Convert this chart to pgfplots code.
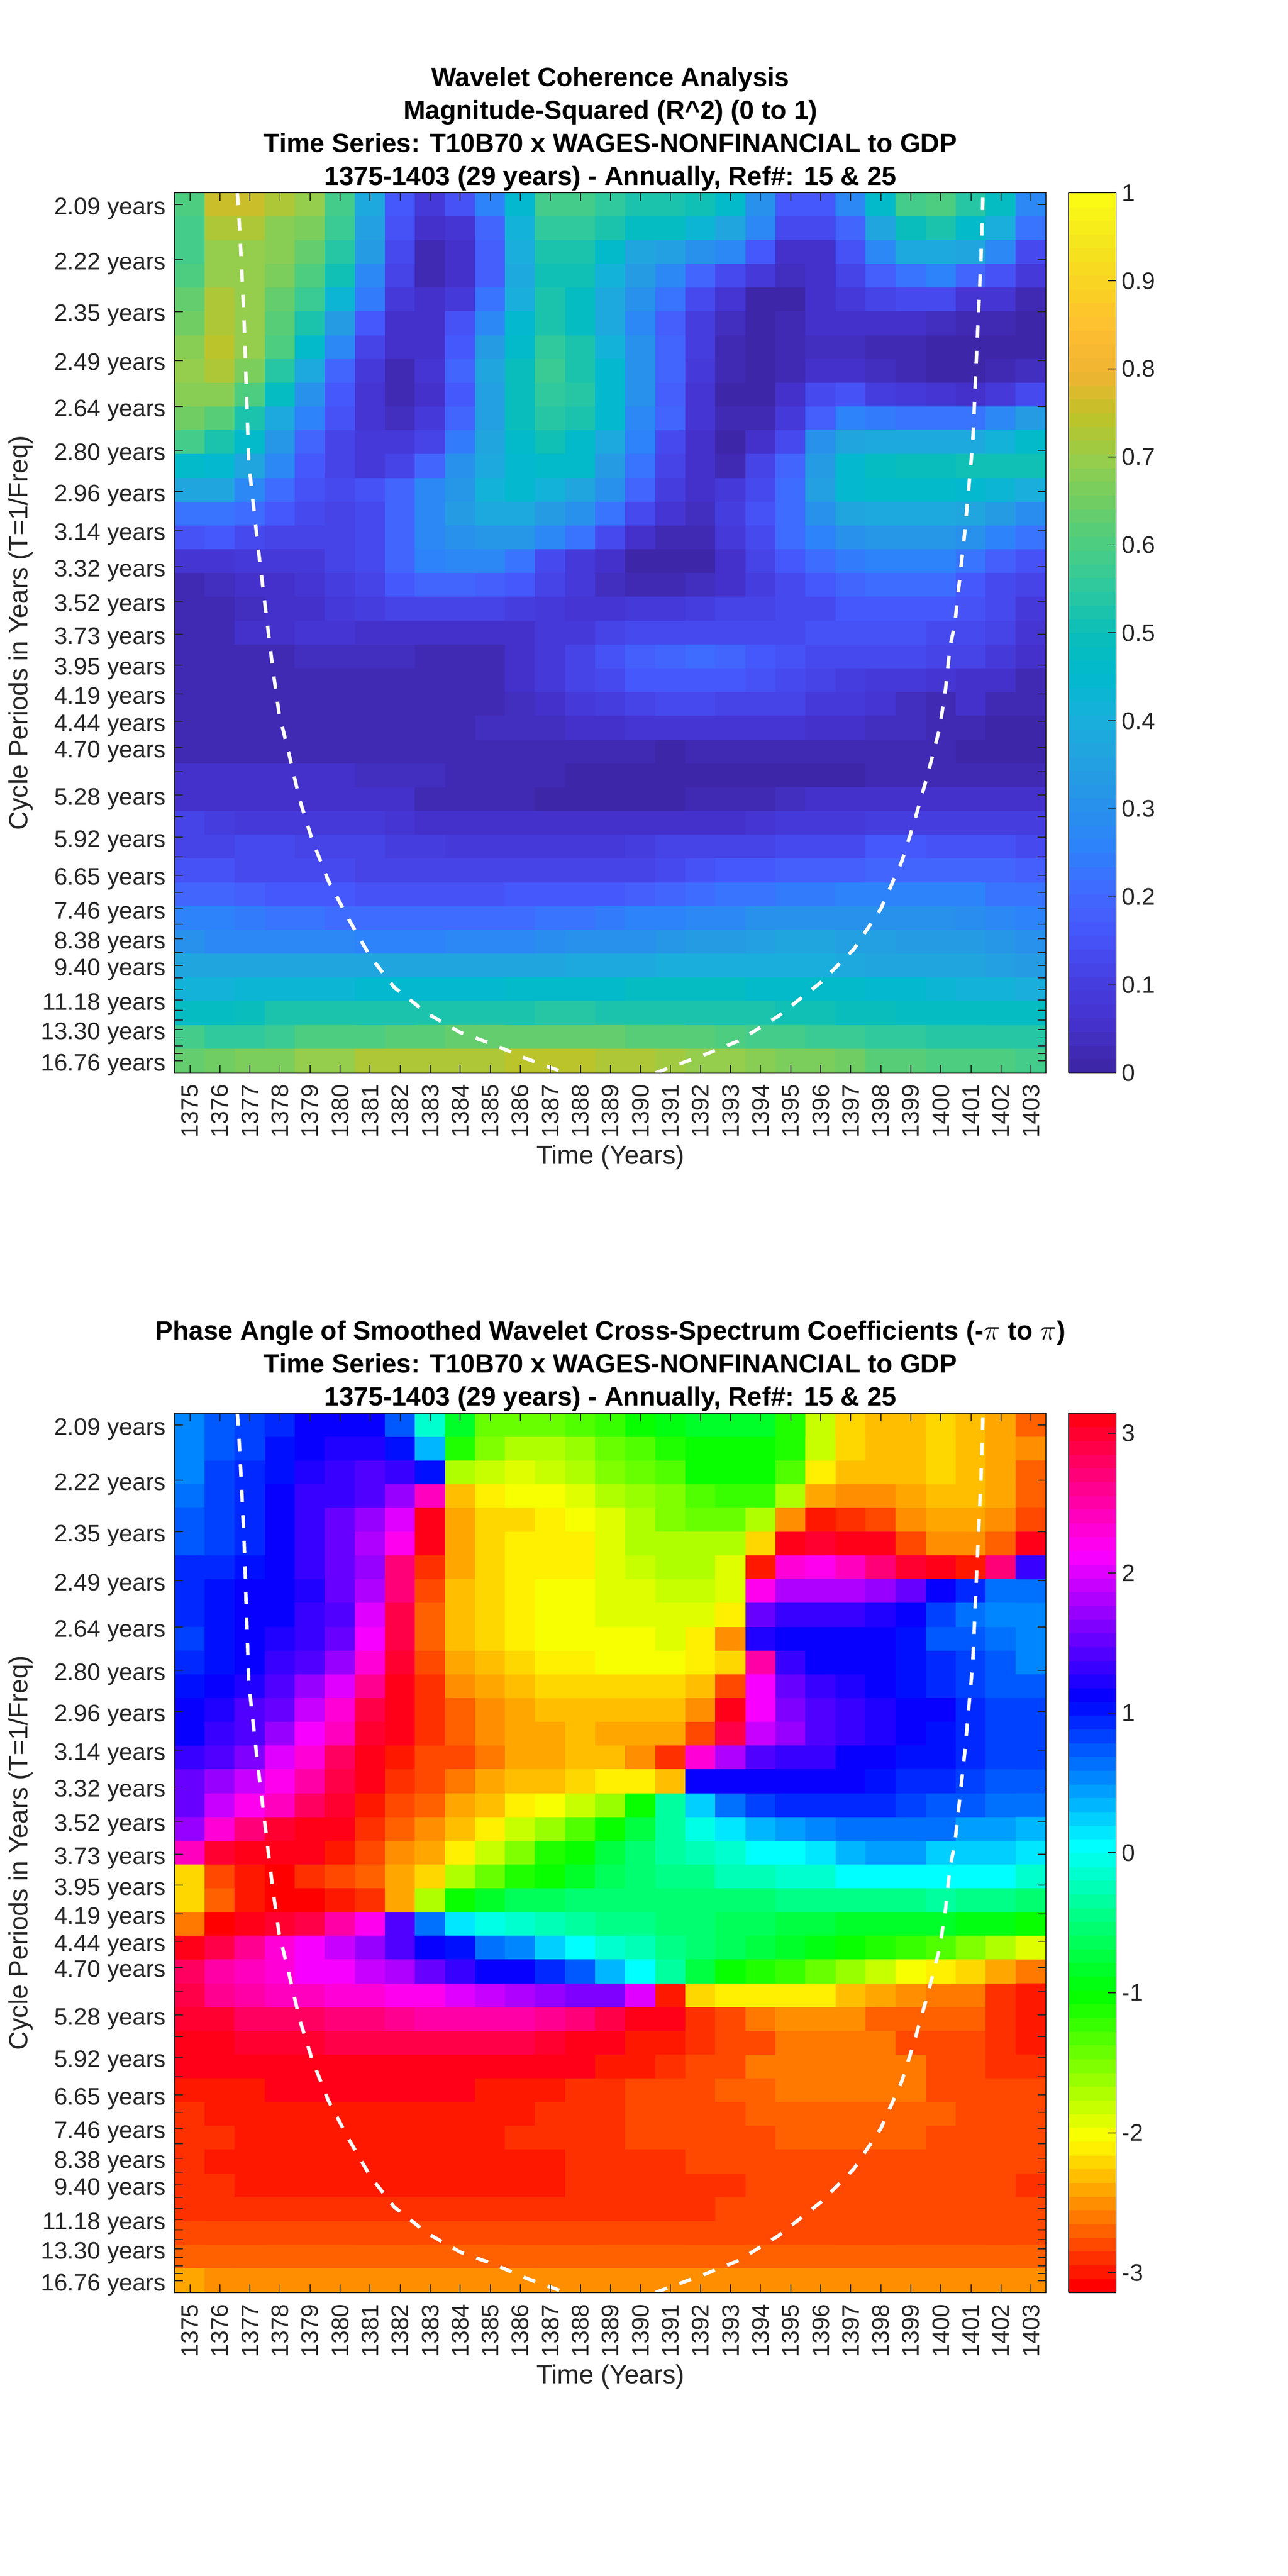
\documentclass[border=0pt]{standalone}
\usepackage{fontspec}
\setmainfont{Liberation Sans}
\usepackage{pgfplots}
\pgfplotsset{compat=1.18}

\definecolor{axgray}{RGB}{38,38,38}

\pgfplotsset{
  colormap={cohbase}{
    rgb255=(62,38,168) rgb255=(68,50,205) rgb255=(70,62,225) rgb255=(70,85,250)
    rgb255=(65,105,255) rgb255=(45,130,250) rgb255=(40,145,235) rgb255=(35,160,225)
    rgb255=(25,175,220) rgb255=(0,185,205) rgb255=(10,190,185) rgb255=(45,200,160)
    rgb255=(75,205,130) rgb255=(110,205,100) rgb255=(150,205,75) rgb255=(190,195,40)
    rgb255=(240,180,50) rgb255=(255,190,50) rgb255=(250,210,35) rgb255=(245,230,30)
    rgb255=(250,250,20)},
  colormap={coh}{samples of colormap=(64 of cohbase)},
  colormap={hsvbase}{
    rgb255(0pt)=(255,0,0) rgb255(60pt)=(255,255,0) rgb255(120pt)=(0,255,0) rgb255(180pt)=(0,255,255)
    rgb255(240pt)=(0,0,255) rgb255(300pt)=(255,0,255) rgb255(354.4pt)=(255,0,24)},
  colormap={hsv64}{samples of colormap=(64 of hsvbase)},
  wavelet/.style={
    scale only axis, width=528.6pt,
    xmin=1374.5, xmax=1403.5, ymin=0.5, ymax=37.5, y dir=reverse,
    axis on top, tick align=inside, major tick length=5pt,
    axis line style={draw=axgray, line width=0.6pt},
    tick style={draw=axgray, line width=0.6pt},
    xtick={1375,1376,...,1403},
    ytick={1,3.309,5.489,7.546,9.488,11.321,13.050,14.683,16.225,17.679,19.052,20.348,21.571,22.726,23.816,24.844,25.816,26.732,27.597,28.413,29.184,29.911,30.598,31.246,31.857,32.435,32.980,33.494,33.979,34.437,34.870,35.278,35.663,36.027,36.370,36.694,37},
    yticklabels={2.09 years,2.22 years,2.35 years,2.49 years,2.64 years,2.80 years,2.96 years,3.14 years,3.32 years,3.52 years,3.73 years,3.95 years,4.19 years,4.44 years,4.70 years,{},5.28 years,{},5.92 years,{},6.65 years,{},7.46 years,{},8.38 years,{},9.40 years,{},{},11.18 years,{},{},13.30 years,{},{},{},16.76 years},
    tick label style={font=\fontsize{14.5}{17}\selectfont, text=axgray},
    xticklabel style={rotate=90, anchor=east, xshift=-3.5pt,
      /pgf/number format/1000 sep={}, /pgf/number format/assume math mode=true},
    yticklabel style={xshift=-2pt, yshift=-2.5pt},
    xlabel={Time (Years)}, ylabel={Cycle Periods in Years (T=1/Freq)},
    label style={font=\fontsize{15.9}{18}\selectfont, text=axgray},
    xlabel style={at={(axis description cs:0.5,-0.096)}, anchor=center},
    ylabel style={at={(axis description cs:-0.177,0.5)}, anchor=center, rotate=0},
    title style={font=\bfseries\fontsize{16}{20}\selectfont, align=center,
      at={(0.5,1)}, anchor=south, yshift=-8pt, inner sep=3pt},
    point meta=explicit,
    colorbar sampled,
  },
  cellmap/.style={matrix plot*, mesh/cols=29, shader=flat corner},
  /pgfplots/table/cell table/.style={row sep=crcr, header=false,
    x expr={1375+mod(\coordindex,29)}, y expr={1+int((\coordindex+0.5)/29)}, meta index=0},
  coi/.style={white, line width=2.1pt, dash pattern=on 7.5pt off 8pt},
  cbar/.style={at={(parent axis.north east)}, anchor=north west, xshift=5pt, width=29pt,
    axis line style={draw=axgray, line width=0.6pt},
    tick style={draw=axgray, line width=0.6pt}, major tick length=5pt, tick align=inside,
    ytick pos=right, samples=65,
    yticklabel style={font=\fontsize{14.5}{17}\selectfont, text=axgray,
      /pgf/number format/assume math mode=true, /pgf/number format/fixed}},
}

\begin{document}
\begin{tikzpicture}
\path[use as bounding box] (0,0) rectangle (781.25pt,1563pt);

\begin{axis}[wavelet, at={(106.1pt,912pt)}, anchor=south west, height=534pt,
  title={Wavelet Coherence Analysis\\Magnitude-Squared (R\textasciicircum 2) (0 to 1)\\Time Series: T10B70 x WAGES-NONFINANCIAL to GDP\\1375-1403 (29 years) - Annually, Ref\#: 15 \& 25},
  colormap name=coh, colormap access=piecewise constant,
  point meta min=0, point meta max=1,
  colorbar style={cbar, ytick={0,0.1,0.2,0.3,0.4,0.5,0.6,0.7,0.8,0.9,1}},
]
\addplot[cellmap] table[cell table] {
.6\\.76\\.76\\.72\\.7\\.58\\.38\\.16\\.09\\.15\\.26\\.45\\.58\\.58\\.55\\.53\\.52\\.51\\.46\\.3\\.16\\.16\\.27\\.46\\.58\\.6\\.54\\.48\\.28\\
.58\\.72\\.72\\.68\\.66\\.57\\.35\\.15\\.06\\.07\\.2\\.42\\.56\\.56\\.53\\.47\\.47\\.43\\.36\\.27\\.13\\.13\\.2\\.37\\.49\\.52\\.46\\.4\\.22\\
.58\\.7\\.7\\.68\\.64\\.54\\.33\\.13\\.03\\.05\\.18\\.4\\.53\\.53\\.46\\.37\\.35\\.31\\.27\\.16\\.06\\.06\\.15\\.28\\.38\\.38\\.36\\.28\\.13\\
.6\\.69\\.69\\.66\\.6\\.5\\.27\\.12\\.03\\.05\\.18\\.38\\.5\\.5\\.42\\.33\\.28\\.2\\.14\\.08\\.04\\.05\\.12\\.18\\.22\\.25\\.2\\.15\\.09\\
.63\\.72\\.7\\.64\\.57\\.43\\.24\\.09\\.05\\.08\\.22\\.4\\.53\\.48\\.38\\.3\\.22\\.14\\.07\\.01\\.01\\.05\\.09\\.12\\.13\\.14\\.07\\.07\\.03\\
.65\\.73\\.7\\.62\\.52\\.33\\.17\\.06\\.06\\.15\\.27\\.44\\.52\\.47\\.38\\.28\\.18\\.1\\.04\\.01\\.02\\.05\\.06\\.06\\.05\\.04\\.03\\.02\\.01\\
.68\\.74\\.7\\.6\\.46\\.27\\.12\\.05\\.05\\.16\\.34\\.46\\.55\\.53\\.42\\.3\\.2\\.1\\.03\\.01\\.02\\.04\\.04\\.03\\.02\\.01\\.01\\.01\\.01\\
.69\\.72\\.66\\.54\\.38\\.2\\.09\\.03\\.07\\.19\\.36\\.49\\.57\\.53\\.44\\.31\\.2\\.08\\.03\\.01\\.03\\.06\\.06\\.04\\.02\\.01\\.01\\.02\\.04\\
.68\\.68\\.6\\.47\\.3\\.16\\.07\\.03\\.06\\.17\\.35\\.49\\.56\\.54\\.44\\.3\\.18\\.07\\.01\\.0\\.05\\.13\\.15\\.1\\.09\\.07\\.06\\.08\\.14\\
.65\\.61\\.53\\.38\\.26\\.15\\.07\\.04\\.09\\.2\\.35\\.49\\.54\\.53\\.44\\.28\\.2\\.07\\.02\\.02\\.08\\.18\\.25\\.24\\.22\\.22\\.22\\.27\\.33\\
.58\\.53\\.46\\.32\\.2\\.12\\.08\\.08\\.12\\.24\\.37\\.46\\.5\\.46\\.38\\.26\\.14\\.05\\.01\\.05\\.14\\.3\\.36\\.38\\.38\\.38\\.38\\.41\\.46\\
.46\\.44\\.36\\.27\\.17\\.11\\.08\\.12\\.19\\.3\\.39\\.45\\.46\\.46\\.34\\.23\\.11\\.05\\.03\\.11\\.19\\.33\\.44\\.47\\.49\\.49\\.51\\.51\\.51\\
.36\\.36\\.27\\.21\\.15\\.13\\.15\\.19\\.27\\.32\\.42\\.44\\.42\\.37\\.3\\.19\\.1\\.05\\.08\\.14\\.21\\.35\\.44\\.46\\.46\\.46\\.45\\.43\\.4\\
.23\\.23\\.21\\.17\\.13\\.12\\.14\\.2\\.28\\.33\\.38\\.38\\.33\\.3\\.23\\.13\\.07\\.04\\.1\\.15\\.21\\.31\\.37\\.38\\.38\\.38\\.37\\.33\\.29\\
.15\\.16\\.14\\.12\\.11\\.11\\.13\\.19\\.27\\.3\\.32\\.32\\.28\\.22\\.13\\.06\\.02\\.03\\.08\\.14\\.21\\.26\\.31\\.32\\.32\\.32\\.3\\.26\\.23\\
.07\\.07\\.09\\.09\\.09\\.11\\.14\\.19\\.25\\.27\\.27\\.22\\.14\\.09\\.05\\.01\\.01\\.01\\.06\\.12\\.16\\.21\\.24\\.26\\.26\\.25\\.22\\.18\\.15\\
.03\\.04\\.05\\.06\\.07\\.1\\.12\\.16\\.19\\.2\\.18\\.17\\.11\\.08\\.04\\.02\\.02\\.04\\.06\\.1\\.13\\.17\\.2\\.21\\.21\\.21\\.17\\.14\\.11\\
.02\\.03\\.04\\.06\\.06\\.08\\.1\\.12\\.12\\.12\\.11\\.1\\.09\\.07\\.07\\.08\\.08\\.1\\.11\\.12\\.13\\.14\\.16\\.16\\.17\\.17\\.15\\.14\\.09\\
.02\\.02\\.05\\.05\\.07\\.07\\.06\\.06\\.06\\.06\\.06\\.06\\.08\\.08\\.12\\.13\\.14\\.14\\.14\\.14\\.14\\.15\\.15\\.15\\.15\\.14\\.13\\.12\\.07\\
.02\\.02\\.03\\.03\\.04\\.04\\.04\\.04\\.02\\.02\\.03\\.06\\.09\\.12\\.15\\.18\\.2\\.21\\.19\\.17\\.15\\.13\\.13\\.13\\.13\\.11\\.12\\.09\\.06\\
.02\\.02\\.03\\.03\\.03\\.03\\.02\\.02\\.02\\.02\\.03\\.05\\.08\\.11\\.14\\.16\\.17\\.17\\.16\\.15\\.13\\.11\\.1\\.09\\.08\\.07\\.06\\.05\\.03\\
.02\\.02\\.02\\.02\\.02\\.02\\.02\\.02\\.02\\.02\\.03\\.04\\.06\\.09\\.1\\.12\\.13\\.13\\.12\\.12\\.11\\.09\\.08\\.07\\.04\\.03\\.05\\.03\\.02\\
.02\\.02\\.03\\.03\\.03\\.03\\.03\\.03\\.03\\.03\\.04\\.04\\.04\\.06\\.06\\.07\\.07\\.07\\.07\\.07\\.07\\.06\\.06\\.04\\.04\\.02\\.02\\.01\\.01\\
.03\\.03\\.03\\.03\\.03\\.03\\.03\\.03\\.03\\.03\\.02\\.02\\.02\\.02\\.02\\.02\\.01\\.02\\.02\\.02\\.02\\.02\\.02\\.03\\.03\\.02\\.01\\.01\\.01\\
.05\\.05\\.05\\.05\\.06\\.06\\.04\\.04\\.04\\.03\\.03\\.02\\.02\\.01\\.01\\.01\\.01\\.01\\.01\\.01\\.01\\.01\\.01\\.03\\.03\\.03\\.03\\.03\\.03\\
.05\\.05\\.05\\.05\\.06\\.05\\.05\\.05\\.03\\.03\\.03\\.03\\.01\\.01\\.01\\.01\\.01\\.02\\.03\\.03\\.04\\.05\\.05\\.05\\.05\\.05\\.05\\.05\\.05\\
.11\\.1\\.09\\.09\\.09\\.08\\.08\\.07\\.06\\.06\\.06\\.05\\.05\\.05\\.05\\.05\\.05\\.06\\.06\\.07\\.08\\.08\\.09\\.1\\.1\\.1\\.1\\.1\\.1\\
.12\\.12\\.13\\.13\\.12\\.11\\.11\\.1\\.1\\.09\\.08\\.08\\.08\\.09\\.09\\.1\\.11\\.11\\.11\\.12\\.13\\.14\\.14\\.16\\.16\\.15\\.15\\.15\\.13\\
.15\\.15\\.13\\.13\\.13\\.13\\.11\\.11\\.11\\.11\\.11\\.11\\.11\\.12\\.12\\.12\\.14\\.15\\.16\\.17\\.18\\.18\\.18\\.2\\.2\\.2\\.2\\.2\\.18\\
.2\\.2\\.18\\.16\\.16\\.16\\.15\\.15\\.15\\.15\\.15\\.16\\.16\\.16\\.17\\.18\\.2\\.21\\.22\\.23\\.24\\.24\\.25\\.25\\.25\\.25\\.25\\.23\\.22\\
.26\\.26\\.24\\.22\\.22\\.21\\.21\\.21\\.21\\.21\\.21\\.21\\.22\\.23\\.24\\.25\\.26\\.27\\.28\\.3\\.31\\.31\\.31\\.3\\.3\\.3\\.29\\.27\\.26\\
.3\\.28\\.27\\.27\\.27\\.27\\.26\\.26\\.26\\.27\\.28\\.28\\.29\\.3\\.31\\.31\\.32\\.33\\.33\\.35\\.36\\.36\\.35\\.35\\.34\\.34\\.34\\.32\\.31\\
.36\\.36\\.36\\.36\\.36\\.36\\.36\\.36\\.36\\.36\\.36\\.36\\.37\\.38\\.39\\.39\\.4\\.4\\.4\\.4\\.4\\.4\\.39\\.37\\.36\\.36\\.36\\.35\\.34\\
.42\\.42\\.43\\.43\\.43\\.43\\.44\\.44\\.45\\.45\\.45\\.46\\.46\\.46\\.46\\.47\\.47\\.47\\.47\\.46\\.46\\.46\\.46\\.45\\.44\\.43\\.42\\.41\\.4\\
.48\\.48\\.49\\.52\\.52\\.52\\.52\\.53\\.53\\.53\\.53\\.53\\.54\\.54\\.53\\.53\\.53\\.53\\.52\\.52\\.51\\.5\\.49\\.49\\.48\\.47\\.47\\.47\\.48\\
.58\\.56\\.56\\.57\\.6\\.6\\.6\\.61\\.62\\.63\\.63\\.63\\.63\\.63\\.63\\.62\\.61\\.61\\.6\\.59\\.58\\.57\\.57\\.56\\.55\\.54\\.54\\.54\\.54\\
.63\\.65\\.66\\.67\\.7\\.7\\.72\\.72\\.72\\.73\\.73\\.74\\.74\\.74\\.73\\.72\\.71\\.7\\.69\\.68\\.67\\.66\\.65\\.62\\.62\\.6\\.6\\.6\\.59\\
};
% cone of influence
\addplot[coi] coordinates {
(1376.58,0.5) (1376.66,2.08) (1376.8,5.72) (1376.96,11.86) (1377.26,15.3) (1377.7,19.9)
(1377.78,20.7) (1377.97,22.4) (1378.3,24.1) (1378.65,26) (1379.06,27.66) (1379.6,29.4)
(1380.3,31.07) (1381,32.6) (1381.8,33.9) (1382.9,35) (1384,35.8) (1385.1,36.3) (1386.2,36.9) (1387.5,37.5)};
\addplot[coi] coordinates {
(1390.5,37.5) (1392.2,36.7) (1393.27,36.15) (1394.6,35.1) (1396,33.7) (1397.1,32.3) (1398,30.6)
(1398.7,28.6) (1399.1,27) (1399.55,25) (1399.96,23) (1400.16,21.3) (1400.3,19.6)
(1400.46,18.65) (1400.8,14.7) (1401.06,11) (1401.2,6.9) (1401.33,3.4) (1401.4,0.5)};
\end{axis}

\begin{axis}[wavelet, at={(106.1pt,172pt)}, anchor=south west, height=533.5pt,
  title={Phase Angle of Smoothed Wavelet Cross-Spectrum Coefficients (-$\pi$ to $\pi$)\\Time Series: T10B70 x WAGES-NONFINANCIAL to GDP\\1375-1403 (29 years) - Annually, Ref\#: 15 \& 25},
  colormap name=hsv64, colormap access=piecewise constant,
  point meta min=-3.1416, point meta max=3.1416,
  colorbar style={cbar, ytick={-3,-2,-1,0,1,2,3}},
]
% the readings are the lower edges of the 64 colour bins, hence the half bin in meta expr
\addplot[cellmap] table[cell table, meta expr={\thisrowno{0}+0.05}] {
.52\\.65\\.75\\.9\\1.05\\1.05\\1.05\\.7\\-.2\\-.9\\-1.45\\-1.5\\-1.5\\-1.4\\-1.3\\-1.1\\-1\\-.9\\-.9\\-.9\\-1.2\\-1.9\\-2.3\\-2.4\\-2.4\\-2.3\\-2.4\\-2.5\\-2.75\\
.5\\.65\\.8\\1\\1.05\\1.15\\1.15\\.95\\.25\\-1.2\\-1.55\\-1.75\\-1.75\\-1.65\\-1.45\\-1.35\\-1.15\\-1.05\\-1.05\\-1.05\\-1.2\\-1.9\\-2.3\\-2.4\\-2.4\\-2.3\\-2.4\\-2.5\\-2.6\\
.5\\.75\\.85\\1\\1.2\\1.3\\1.35\\1.25\\.95\\-1.8\\-1.85\\-1.95\\-1.85\\-1.75\\-1.6\\-1.45\\-1.35\\-1.1\\-1.05\\-1.05\\-1.4\\-2.15\\-2.4\\-2.4\\-2.4\\-2.3\\-2.4\\-2.5\\-2.75\\
.6\\.75\\.9\\1.05\\1.25\\1.3\\1.4\\1.65\\2.4\\-2.35\\-2.15\\-2.1\\-2.1\\-1.95\\-1.75\\-1.65\\-1.55\\-1.35\\-1.25\\-1.3\\-1.8\\-2.5\\-2.6\\-2.6\\-2.5\\-2.4\\-2.4\\-2.5\\-2.75\\
.7\\.8\\.9\\1.05\\1.25\\1.45\\1.65\\2\\3\\-2.5\\-2.3\\-2.25\\-2.15\\-2.05\\-1.95\\-1.75\\-1.6\\-1.5\\-1.5\\-1.75\\-2.6\\-3.05\\-2.95\\-2.8\\-2.6\\-2.5\\-2.5\\-2.6\\-2.8\\
.7\\.8\\.9\\1.05\\1.25\\1.45\\1.75\\2.2\\3.14\\-2.5\\-2.3\\-2.2\\-2.15\\-2.15\\-1.95\\-1.8\\-1.75\\-1.75\\-1.75\\-2.3\\3\\2.9\\3\\3.14\\-2.85\\-2.6\\-2.6\\-2.75\\3.14\\
.85\\.85\\1\\1.05\\1.25\\1.5\\1.7\\2.6\\-2.95\\-2.5\\-2.3\\-2.2\\-2.2\\-2.15\\-2\\-1.9\\-1.8\\-1.8\\-1.95\\-3\\2.3\\2.2\\2.4\\2.6\\2.95\\3.14\\-3\\2.6\\1.25\\
.85\\.95\\1.05\\1.05\\1.15\\1.45\\1.75\\2.6\\-2.8\\-2.4\\-2.3\\-2.2\\-2.1\\-2.1\\-2\\-2\\-1.9\\-1.9\\-2\\2.15\\1.75\\1.75\\1.75\\1.7\\1.45\\1.05\\.9\\.6\\.6\\
.85\\.95\\1.05\\1.05\\1.25\\1.4\\1.95\\2.85\\-2.75\\-2.4\\-2.3\\-2.2\\-2.1\\-2.1\\-1.95\\-1.95\\-1.95\\-1.95\\-2.2\\1.45\\1.3\\1.25\\1.25\\1.2\\1.1\\.8\\.6\\.5\\.5\\
.8\\.95\\1.05\\1.15\\1.25\\1.5\\2.05\\2.85\\-2.75\\-2.4\\-2.3\\-2.2\\-2.1\\-2.1\\-2.05\\-2.05\\-1.95\\-2.15\\-2.6\\1.2\\1.1\\1.1\\1.05\\1.05\\.95\\.7\\.65\\.55\\.5\\
.9\\1\\1.1\\1.25\\1.4\\1.7\\2.3\\2.95\\-2.85\\-2.5\\-2.4\\-2.3\\-2.2\\-2.15\\-2.1\\-2.05\\-2.05\\-2.2\\-2.3\\2.45\\1.3\\1.1\\1.1\\1.05\\1\\.9\\.75\\.65\\.5\\
1\\1.05\\1.2\\1.35\\1.65\\2\\2.55\\3.05\\-2.95\\-2.6\\-2.5\\-2.4\\-2.3\\-2.3\\-2.3\\-2.3\\-2.3\\-2.4\\-2.85\\2.1\\1.5\\1.3\\1.15\\1.05\\.95\\.85\\.8\\.65\\.65\\
1.05\\1.15\\1.35\\1.45\\1.9\\2.3\\2.8\\3.14\\-2.95\\-2.75\\-2.6\\-2.5\\-2.4\\-2.4\\-2.4\\-2.4\\-2.4\\-2.6\\3.05\\2.1\\1.6\\1.35\\1.25\\1.15\\1.05\\1.05\\.9\\.75\\.75\\
1.1\\1.25\\1.35\\1.7\\2.1\\2.4\\2.9\\3.14\\-2.95\\-2.75\\-2.6\\-2.5\\-2.5\\-2.4\\-2.5\\-2.5\\-2.5\\-2.8\\2.8\\1.9\\1.65\\1.35\\1.25\\1.15\\1.05\\1\\.9\\.75\\.75\\
1.25\\1.35\\1.55\\1.95\\2.25\\2.75\\3\\-3\\-2.85\\-2.8\\-2.7\\-2.5\\-2.5\\-2.4\\-2.4\\-2.55\\-2.95\\2.3\\1.75\\1.4\\1.3\\1.25\\1.1\\1.05\\1\\.95\\.9\\.75\\.75\\
1.5\\1.7\\1.9\\2.15\\2.5\\2.8\\3.1\\-2.95\\-2.85\\-2.65\\-2.5\\-2.4\\-2.4\\-2.3\\-2.2\\-2.2\\-2.4\\1.05\\1.05\\1.05\\1.05\\1.05\\1.05\\.95\\.85\\.85\\.75\\.65\\.65\\
1.5\\1.9\\2.15\\2.35\\2.7\\2.95\\-3\\-2.85\\-2.75\\-2.5\\-2.4\\-2.2\\-2.1\\-1.9\\-1.65\\-1.1\\-.35\\.2\\.55\\.75\\.85\\.85\\.85\\.85\\.75\\.65\\.65\\.55\\.55\\
1.7\\2.3\\2.6\\2.9\\3\\3.14\\-2.95\\-2.75\\-2.55\\-2.4\\-2.2\\-1.9\\-1.7\\-1.4\\-1.05\\-.8\\-.4\\-.1\\.1\\.25\\.4\\.5\\.55\\.55\\.55\\.55\\.4\\.4\\.25\\
2.4\\2.95\\3\\3.1\\3.14\\-3\\-2.8\\-2.6\\-2.45\\-2.15\\-1.85\\-1.55\\-1.2\\-1.05\\-.8\\-.6\\-.4\\-.3\\-.15\\-.05\\0\\.1\\.25\\.35\\.35\\.2\\.15\\.15\\.1\\
-2.3\\-2.85\\-3\\-3.14\\-2.95\\-2.85\\-2.75\\-2.5\\-2.25\\-1.75\\-1.45\\-1.2\\-1.05\\-.85\\-.7\\-.55\\-.5\\-.45\\-.3\\-.25\\-.2\\-.15\\-.05\\0\\0\\0\\0\\0\\-.15\\
-2.3\\-2.75\\-3\\-3.14\\-3.14\\-3\\-2.9\\-2.5\\-1.75\\-1.05\\-.85\\-.7\\-.7\\-.6\\-.55\\-.55\\-.55\\-.55\\-.55\\-.55\\-.5\\-.5\\-.5\\-.5\\-.5\\-.35\\-.45\\-.5\\-.6\\
-2.7\\-3.14\\3\\2.95\\2.8\\2.5\\2.15\\1.4\\.55\\.1\\-.1\\-.2\\-.3\\-.4\\-.45\\-.5\\-.55\\-.6\\-.65\\-.7\\-.75\\-.8\\-.85\\-.9\\-.9\\-.9\\-.95\\-1\\-1.05\\
3\\2.85\\2.55\\2.3\\2.05\\1.9\\1.7\\1.4\\1.1\\.95\\.6\\.45\\.2\\0\\-.2\\-.3\\-.45\\-.6\\-.7\\-.8\\-.85\\-.95\\-1.05\\-1.15\\-1.3\\-1.4\\-1.55\\-1.75\\-1.95\\
2.75\\2.5\\2.35\\2.25\\2.1\\2.1\\1.85\\1.75\\1.5\\1.3\\1.1\\1.05\\.85\\.65\\.3\\0\\-.35\\-.8\\-1.05\\-1.15\\-1.3\\-1.45\\-1.7\\-1.85\\-2.05\\-2.15\\-2.3\\-2.5\\-2.7\\
2.8\\2.55\\2.45\\2.4\\2.35\\2.3\\2.25\\2.2\\2.15\\2\\1.9\\1.75\\1.65\\1.6\\1.6\\1.95\\-3.05\\-2.3\\-2.2\\-2.2\\-2.2\\-2.2\\-2.35\\-2.45\\-2.55\\-2.65\\-2.7\\-2.95\\-3\\
2.95\\2.9\\2.75\\2.7\\2.7\\2.65\\2.6\\2.55\\2.5\\2.5\\2.5\\2.5\\2.55\\2.65\\2.8\\3\\3.14\\-2.95\\-2.8\\-2.7\\-2.6\\-2.6\\-2.6\\-2.75\\-2.75\\-2.75\\-2.75\\-2.9\\-3\\
3.1\\3.1\\2.95\\2.95\\2.9\\2.85\\2.85\\2.85\\2.85\\2.85\\2.85\\2.85\\2.95\\3\\3.14\\-3.05\\-3.05\\-2.95\\-2.85\\-2.85\\-2.7\\-2.7\\-2.7\\-2.7\\-2.8\\-2.85\\-2.85\\-2.95\\-3\\
3.14\\3.14\\3.14\\3\\3\\3\\3\\3\\3\\3\\3\\3.14\\3.14\\3.14\\-3.05\\-3.05\\-2.95\\-2.85\\-2.85\\-2.7\\-2.7\\-2.7\\-2.7\\-2.7\\-2.7\\-2.85\\-2.85\\-2.95\\-2.95\\
-3.05\\-3.05\\-3.05\\3.14\\3.14\\3.14\\3.14\\3.14\\3.14\\3.14\\-3.05\\-3.05\\-3.05\\-2.95\\-2.95\\-2.8\\-2.8\\-2.8\\-2.75\\-2.75\\-2.7\\-2.7\\-2.7\\-2.7\\-2.7\\-2.8\\-2.8\\-2.8\\-2.8\\
-2.95\\-3\\-3\\-3\\-3\\-3\\-3\\-3\\-3\\-3\\-3\\-3\\-2.95\\-2.95\\-2.95\\-2.85\\-2.85\\-2.85\\-2.85\\-2.75\\-2.75\\-2.75\\-2.75\\-2.75\\-2.75\\-2.75\\-2.85\\-2.85\\-2.85\\
-2.95\\-2.95\\-3.05\\-3.05\\-3.05\\-3.05\\-3.05\\-3.05\\-3.05\\-3.05\\-3.05\\-2.95\\-2.95\\-2.95\\-2.95\\-2.85\\-2.85\\-2.85\\-2.85\\-2.85\\-2.75\\-2.75\\-2.75\\-2.75\\-2.75\\-2.85\\-2.85\\-2.85\\-2.85\\
-2.95\\-3.05\\-3.05\\-3.05\\-3.05\\-3.05\\-3.05\\-3.05\\-3.05\\-3.05\\-3.05\\-3.05\\-3.05\\-2.95\\-2.95\\-2.95\\-2.95\\-2.85\\-2.85\\-2.85\\-2.85\\-2.85\\-2.85\\-2.85\\-2.85\\-2.85\\-2.85\\-2.85\\-2.85\\
-2.95\\-2.95\\-3.05\\-3.05\\-3.05\\-3.05\\-3.05\\-3.05\\-3.05\\-3.05\\-3.05\\-3.05\\-3.05\\-2.95\\-2.95\\-2.95\\-2.95\\-2.95\\-2.95\\-2.85\\-2.85\\-2.85\\-2.85\\-2.85\\-2.85\\-2.85\\-2.85\\-2.85\\-2.95\\
-2.95\\-2.95\\-2.95\\-2.95\\-2.95\\-2.95\\-2.95\\-2.95\\-2.95\\-2.95\\-2.95\\-2.95\\-2.95\\-2.95\\-2.95\\-2.95\\-2.95\\-2.95\\-2.85\\-2.85\\-2.85\\-2.85\\-2.85\\-2.85\\-2.85\\-2.85\\-2.85\\-2.85\\-2.85\\
-2.85\\-2.85\\-2.85\\-2.85\\-2.85\\-2.85\\-2.85\\-2.85\\-2.85\\-2.85\\-2.85\\-2.85\\-2.85\\-2.85\\-2.85\\-2.85\\-2.85\\-2.85\\-2.85\\-2.85\\-2.85\\-2.85\\-2.85\\-2.85\\-2.85\\-2.85\\-2.85\\-2.85\\-2.85\\
-2.75\\-2.75\\-2.75\\-2.75\\-2.75\\-2.75\\-2.75\\-2.75\\-2.75\\-2.75\\-2.75\\-2.75\\-2.75\\-2.75\\-2.75\\-2.75\\-2.75\\-2.75\\-2.75\\-2.75\\-2.75\\-2.75\\-2.75\\-2.75\\-2.75\\-2.75\\-2.75\\-2.75\\-2.75\\
-2.5\\-2.6\\-2.6\\-2.6\\-2.6\\-2.6\\-2.6\\-2.6\\-2.6\\-2.6\\-2.6\\-2.6\\-2.6\\-2.6\\-2.6\\-2.6\\-2.6\\-2.6\\-2.6\\-2.6\\-2.6\\-2.6\\-2.6\\-2.6\\-2.6\\-2.6\\-2.6\\-2.6\\-2.6\\
};
% cone of influence
\addplot[coi] coordinates {
(1376.58,0.5) (1376.66,2.08) (1376.8,5.72) (1376.96,11.86) (1377.26,15.3) (1377.7,19.9)
(1377.78,20.7) (1377.97,22.4) (1378.3,24.1) (1378.65,26) (1379.06,27.66) (1379.6,29.4)
(1380.3,31.07) (1381,32.6) (1381.8,33.9) (1382.9,35) (1384,35.8) (1385.1,36.3) (1386.2,36.9) (1387.5,37.5)};
\addplot[coi] coordinates {
(1390.5,37.5) (1392.2,36.7) (1393.27,36.15) (1394.6,35.1) (1396,33.7) (1397.1,32.3) (1398,30.6)
(1398.7,28.6) (1399.1,27) (1399.55,25) (1399.96,23) (1400.16,21.3) (1400.3,19.6)
(1400.46,18.65) (1400.8,14.7) (1401.06,11) (1401.2,6.9) (1401.33,3.4) (1401.4,0.5)};
\end{axis}
\end{tikzpicture}
\end{document}
